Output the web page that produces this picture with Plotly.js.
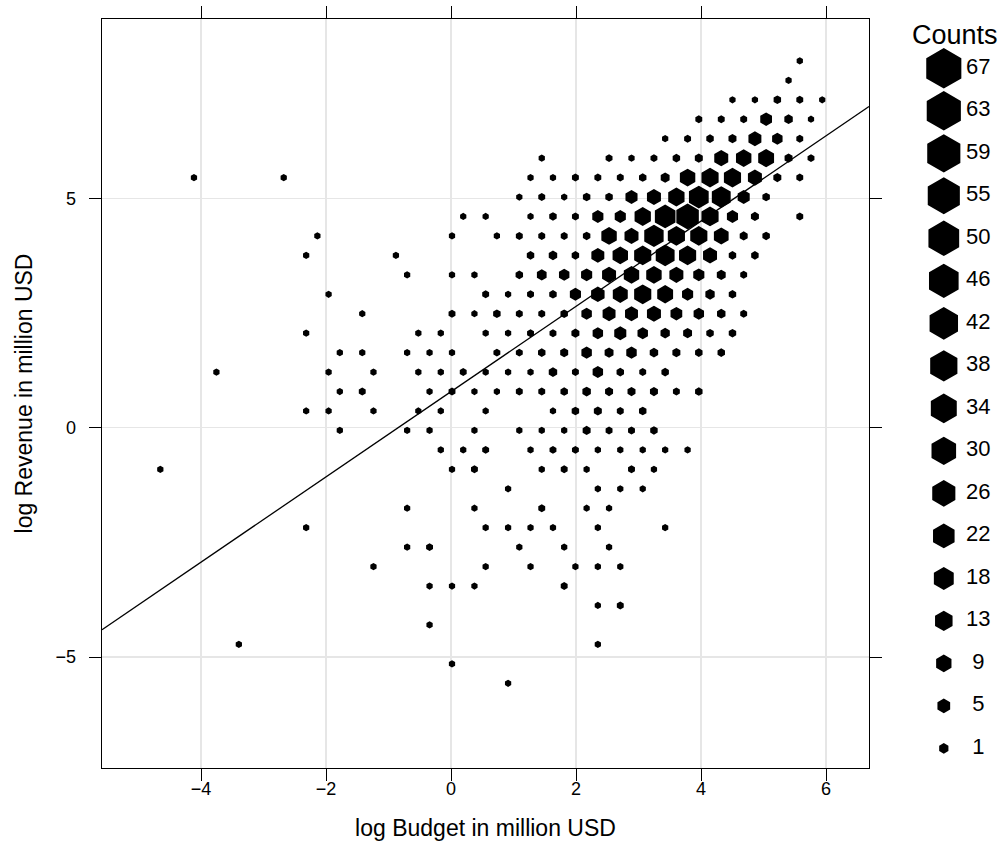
<!DOCTYPE html>
<html>
<head>
<meta charset="utf-8">
<script src="https://cdn.plot.ly/plotly-3.0.1.min.js"></script>
<style>html,body{margin:0;padding:0;background:#fff;}#chart{width:1006px;height:857px;}</style>
</head>
<body>
<div id="chart"></div>
<script>
// ---- hexbin grid (data units) ----
const binWidth = 0.359;      // width of one hexagon cell along x
const rowHeight = 0.4243;    // distance between hexagon rows along y
const gridX0 = -4.651;       // x of the grid origin
const gridY0 = -5.572;       // y of the lowest row

// ---- hexagon cells: row index, half-column index, count ----
const hexRow = [
  32,
  31,
  30,30,30,30,30,
  29,29,29,29,29,29,
  28,28,28,28,28,28,28,
  27,27,27,27,27,27,27,27,27,27,27,
  26,26,26,26,26,26,26,26,26,26,26,26,26,26,26,
  25,25,25,25,25,25,25,25,25,25,25,25,
  24,24,24,24,24,24,24,24,24,24,24,24,24,24,
  23,23,23,23,23,23,23,23,23,23,23,23,23,23,23,
  22,22,22,22,22,22,22,22,22,22,22,22,22,
  21,21,21,21,21,21,21,21,21,21,21,21,21,21,
  20,20,20,20,20,20,20,20,20,20,20,20,20,
  19,19,19,19,19,19,19,19,19,19,19,19,19,19,19,
  18,18,18,18,18,18,18,18,18,18,18,18,18,18,18,
  17,17,17,17,17,17,17,17,17,17,17,17,17,17,17,17,
  16,16,16,16,16,16,16,16,16,16,16,16,16,16,16,
  15,15,15,15,15,15,15,15,15,15,15,15,15,15,15,
  14,14,14,14,14,14,14,14,14,14,14,
  13,13,13,13,13,13,13,13,13,13,13,
  12,12,12,12,12,12,12,12,12,12,12,
  11,11,11,11,11,11,11,11,
  10,10,10,10,
  9,9,9,9,9,
  8,8,8,8,8,8,8,
  7,7,7,7,7,
  6,6,6,6,6,6,
  5,5,5,5,
  4,4,
  3,
  2,2,
  1,
  0
];
const hexCol = [
  57,
  56,
  51,53,55,57,59,
  48,50,52,54,56,58,
  45,47,49,51,53,55,57,
  34,40,42,44,46,48,50,52,54,56,58,
  3,11,33,35,37,39,41,43,45,47,49,51,53,55,57,
  32,34,36,38,40,42,44,46,48,50,52,54,
  27,29,33,35,37,39,41,43,45,47,49,51,53,57,
  14,26,30,32,34,36,38,40,42,44,46,48,50,52,54,
  13,21,33,35,37,39,41,43,45,47,49,51,53,
  22,26,28,32,34,36,38,40,42,44,46,48,50,52,
  15,29,31,33,35,37,39,41,43,45,47,49,51,
  18,26,28,30,32,34,36,38,40,42,44,46,48,50,52,
  13,23,25,29,31,33,35,37,39,41,43,45,47,49,51,
  16,18,22,24,26,30,32,34,36,38,40,42,44,46,48,50,
  5,15,19,23,25,27,29,31,33,35,37,39,41,43,45,
  16,18,24,26,28,30,32,34,36,38,40,42,44,46,48,
  13,15,19,23,25,29,35,37,39,41,43,
  16,22,24,28,32,34,36,38,40,42,44,
  25,27,29,33,35,37,39,41,43,45,47,
  0,26,28,34,36,38,42,44,
  31,39,41,43,
  22,28,34,38,40,
  13,29,31,33,35,39,45,
  22,24,32,36,40,
  19,29,33,37,39,41,
  24,26,28,36,
  39,41,
  24,
  7,39,
  26,
  31
];
const hexCount = [
  1,
  1,
  1,1,3,2,1,
  2,2,2,14,5,1,
  1,2,3,4,18,10,2,
  1,2,1,2,3,4,22,28,30,4,2,
  1,1,1,1,2,2,2,3,6,28,36,36,22,4,2,
  1,2,1,3,3,15,22,32,50,45,15,3,
  1,1,1,3,2,12,12,32,55,67,36,12,4,2,
  1,1,1,2,2,2,3,28,22,48,36,36,25,4,3,
  1,1,3,5,3,18,28,36,45,36,22,3,3,
  1,1,1,3,8,10,12,22,28,28,22,12,6,2,
  1,2,1,2,3,12,20,26,36,30,12,7,3,
  1,2,1,3,2,2,3,10,18,18,22,14,10,5,2,
  1,1,1,1,1,2,2,4,10,15,10,7,6,3,3,
  1,1,1,1,1,2,2,3,4,10,6,10,5,4,3,3,
  1,1,1,1,1,2,1,1,1,5,2,10,3,2,3,
  1,2,1,2,1,1,2,2,3,5,4,4,4,2,3,
  1,1,1,1,1,1,1,3,4,2,3,
  1,1,1,1,1,1,1,4,2,2,3,
  1,1,2,1,2,2,1,1,1,1,1,
  1,1,2,1,2,1,2,1,
  1,1,1,1,
  1,1,2,1,1,
  1,1,1,1,1,1,1,
  1,2,1,1,1,
  1,1,1,1,1,1,
  1,1,1,2,
  1,2,
  1,
  1,1,
  1,
  1
];

// ---- legend levels ----
const legendCounts = [67, 63, 59, 55, 50, 46, 42, 38, 34, 30, 26, 22, 18, 13, 9, 5, 1];

// ---- least-squares line ----
const fitIntercept = 0.79;
const fitSlope = 0.93;

// ---- axes ----
const xRange = [-5.584, 6.688];
const yRange = [-7.42, 8.919];
const xTicks = [-4, -2, 0, 2, 4, 6];
const yTicks = [-5, 0, 5];

// ---- layout geometry (pixels) ----
const W = 1006, H = 857;
const mL = 102, mT = 19, mB = 89;
const plotW = 767;
const panelFrac = plotW / (W - mL);

const minArea = 0.04, maxArea = 0.8;
const cMin = Math.min(...hexCount), cMax = Math.max(...hexCount);
function relArea(c) {
  return minArea + (maxArea - minArea) * (c - cMin) / (cMax - cMin);
}
const pxPerX = plotW / (xRange[1] - xRange[0]);
const cellPx = binWidth * pxPerX;                      // flat-to-flat width of a full cell
const fullMarker = 1.04 * cellPx * 2 / Math.sqrt(3);   // vertex-to-vertex of a full cell

const hx = hexCol.map(h => gridX0 + h * binWidth / 2);
const hy = hexRow.map(r => gridY0 + r * rowHeight);
const hs = hexCount.map(c => fullMarker * Math.sqrt(relArea(c)));

const hexTrace = {
  type: 'scatter', mode: 'markers', x: hx, y: hy,
  text: hexCount, hoverinfo: 'text',
  marker: { symbol: 'hexagon', size: hs, color: '#000', opacity: 1,
            line: { color: '#000', width: 1.6 } },
  showlegend: false, cliponaxis: false
};

const fitTrace = {
  type: 'scatter', mode: 'lines',
  x: xRange, y: xRange.map(v => fitIntercept + fitSlope * v),
  line: { color: '#000', width: 1.3 }, hoverinfo: 'skip', showlegend: false
};

// legend keys in a side panel
const legFull = 43;
const legIdx = legendCounts.map((c, i) => i);
const legKeyX = 0.546, legLabX = 0.798;
const legendKeys = {
  type: 'scatter', mode: 'markers', xaxis: 'x2', yaxis: 'y2',
  x: legendCounts.map(() => legKeyX), y: legIdx,
  marker: { symbol: 'hexagon', color: '#000', opacity: 1,
            size: legendCounts.map(c => legFull * Math.sqrt(relArea(c))),
            line: { color: '#000', width: 1.8 } },
  hoverinfo: 'skip', showlegend: false, cliponaxis: false
};
const legendLabels = {
  type: 'scatter', mode: 'text', xaxis: 'x2', yaxis: 'y2',
  x: legendCounts.map(() => legLabX), y: legIdx,
  text: legendCounts.map(String), textposition: 'middle center',
  textfont: { family: 'Liberation Sans, Arial, sans-serif', size: 22, color: '#000' },
  hoverinfo: 'skip', showlegend: false, cliponaxis: false
};

const font = 'Liberation Sans, Arial, Helvetica, sans-serif';
const axisCommon = {
  showline: true, linecolor: '#000', linewidth: 1.3, mirror: 'ticks',
  ticks: 'outside', ticklen: 12, tickwidth: 1, tickcolor: '#000',
  showgrid: true, gridcolor: '#e6e6e6', gridwidth: 1.2, zeroline: false,
  tickfont: { family: font, size: 18, color: '#000' }
};

const layout = {
  width: W, height: H,
  margin: { l: mL, r: 0, t: mT, b: mB, pad: 0 },
  paper_bgcolor: '#fff', plot_bgcolor: '#fff',
  font: { family: font, color: '#000' },
  showlegend: false,
  xaxis: Object.assign({}, axisCommon, {
    domain: [0, panelFrac], range: xRange, tickvals: xTicks, anchor: 'y',
    ticklabelstandoff: -8,
    title: { text: 'log Budget in million USD', font: { family: font, size: 23, color: '#000' }, standoff: 22 }
  }),
  yaxis: Object.assign({}, axisCommon, {
    range: yRange, tickvals: yTicks, anchor: 'x',
    ticklabelstandoff: 9,
    title: { text: 'log Revenue in million USD', font: { family: font, size: 23, color: '#000' }, standoff: 16 }
  }),
  xaxis2: { domain: [panelFrac, 1], range: [0, 1], anchor: 'y2', visible: false, fixedrange: true },
  yaxis2: { domain: [0, 1], range: [16.46, -1.16], anchor: 'x2', visible: false, fixedrange: true },
  annotations: [{
    xref: 'x2', yref: 'y2', x: 0.628, y: -0.785, text: 'Counts', showarrow: false,
    font: { family: font, size: 27, color: '#000' }, xanchor: 'center', yanchor: 'middle'
  }]
};

Plotly.newPlot('chart', [fitTrace, hexTrace, legendKeys, legendLabels], layout,
  { displayModeBar: false, staticPlot: true });
</script>
</body>
</html>
